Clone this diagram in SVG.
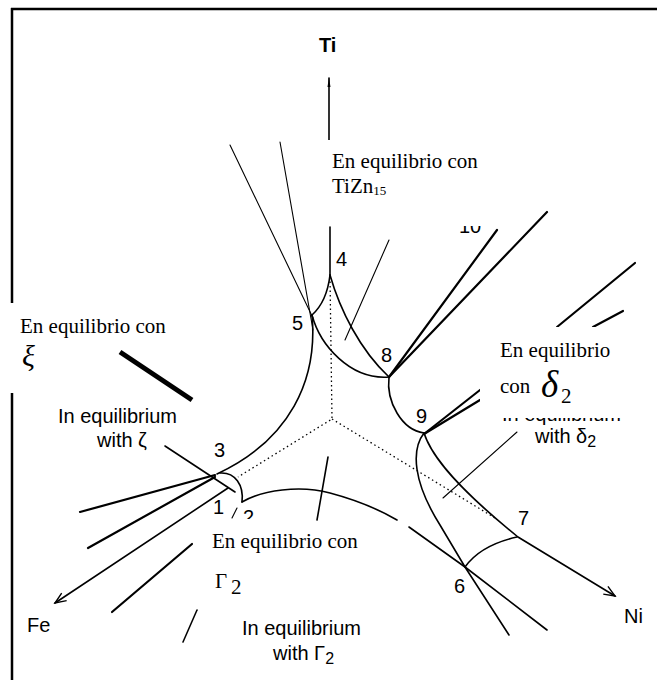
<svg xmlns="http://www.w3.org/2000/svg" width="657" height="680" viewBox="0 0 657 680">
<style>
.c{fill:none;stroke:#000;stroke-width:1.6;stroke-linecap:round}
.t{fill:none;stroke:#000;stroke-width:1.1;stroke-linecap:round}
.k{fill:none;stroke:#000;stroke-width:2.2;stroke-linecap:round}
.d{fill:none;stroke:#000;stroke-width:1.3;stroke-dasharray:1.5 3}
.s{font-family:"Liberation Sans",Arial,sans-serif;font-size:20px;fill:#000}
.e{font-family:"Liberation Serif","Times New Roman",serif;font-size:21px;fill:#000}
.g{font-family:"Liberation Serif","Times New Roman",serif;font-style:italic;fill:#000}
.w{fill:#fff;stroke:none}
</style>
<defs>
<marker id="open" markerWidth="14" markerHeight="12" refX="12" refY="6" orient="auto" markerUnits="userSpaceOnUse">
<path d="M1,1.5 L12,6 L1,10.5" fill="none" stroke="#000" stroke-width="1.4"/>
</marker>
<marker id="solid" markerWidth="10" markerHeight="16" refX="15" refY="3" orient="auto" markerUnits="userSpaceOnUse" viewBox="0 0 16 6">
<path d="M0,0.5 L16,3 L0,5.5 Z" fill="#000"/>
</marker>
</defs>
<rect width="657" height="680" fill="#fff"/>
<g id="frame">
<line x1="11" y1="9" x2="657" y2="9" stroke="#000" stroke-width="2.5"/>
<line x1="12" y1="8" x2="12" y2="303" stroke="#000" stroke-width="2.5"/>
<line x1="12" y1="393" x2="12" y2="680" stroke="#000" stroke-width="2.5"/>
</g>
<g id="connectors">
<path class="c" d="M329,140 L329,78" marker-end="url(#solid)"/>
<path class="c" d="M330,227 L330,275"/>
<path class="c" d="M228,488 L55,603" marker-end="url(#open)"/>
<path class="c" d="M312,315 C322,306 328,292 330,275"/>
<path class="c" d="M330,275 C340,310 360,350 389,377"/>
<path class="c" d="M312,315 C320,345 350,380 389,377"/>
<path class="c" d="M312,315 C318,380 290,440 217,474"/>
<path class="c" d="M389,377 C386,402 402,430 424,433"/>
<path class="c" d="M424,433 C411,450 413,482 440,525 L465,567 L509,635"/>
<path class="c" d="M424,433 C432,458 460,490 518,537 L615,596" marker-end="url(#open)"/>
<path class="c" d="M465,567 C475,553 490,543 517,537"/>
<path class="c" d="M220,473 C235,472 244,485 242,502"/>
<path class="c" d="M242,502 C262,490 300,485 330,493 S380,510 397,520"/>
<path class="c" d="M409,527 L465,567 L547,630"/>
<path class="d" d="M330,277 L332,419 L238,477"/>
<path class="d" d="M332,419 L495,518"/>
<path class="t" d="M230,145 L313,318"/>
<path class="t" d="M280,142 L313,330"/>
<path class="t" d="M389,240 L345,340"/>
<path class="k" d="M389,377 L497,230"/>
<path class="k" d="M389,377 L547,212"/>
<path class="k" d="M557,327 L635,263"/>
<path class="k" d="M593,327 L623,311"/>
<path class="k" d="M424,434 L480,390"/>
<path class="k" d="M424,434 L480,400"/>
<path class="t" d="M517,432 L443,498"/>
<path class="c" d="M328,457 L317,520"/>
<path class="c" d="M165,446 L235,492"/>
<path fill="none" stroke="#000" stroke-width="5" d="M120,352 L192,400"/>
<path class="k" d="M215,475 L80,512"/>
<path class="k" d="M215,477 L88,548"/>
<path class="k" d="M192,544 L112,612"/>
<path class="c" d="M197,610 L183,642"/>
<path class="t" d="M232,518 L237,508"/>
</g>
<g id="node-1"><text class="s" x="213" y="514">1</text></g>
<g id="node-2"><text class="s" x="243" y="524">2</text></g>
<g id="node-3"><text class="s" x="214" y="457">3</text></g>
<g id="node-4"><text class="s" x="336" y="266">4</text></g>
<g id="node-5"><text class="s" x="292" y="330">5</text></g>
<g id="node-6"><text class="s" x="454" y="593">6</text></g>
<g id="node-7"><text class="s" x="518" y="525">7</text></g>
<g id="node-8"><text class="s" x="381" y="362">8</text></g>
<g id="node-9"><text class="s" x="416" y="423">9</text></g>
<g id="node-10"><text class="s" x="459" y="233">10</text></g>
<g id="axis-Ti"><text class="s" x="319" y="52" font-weight="bold">Ti</text></g>
<g id="axis-Fe"><text class="s" x="27" y="632">Fe</text></g>
<g id="axis-Ni"><text class="s" x="624" y="623">Ni</text></g>
<g id="label-xi-en"><text class="s" x="58" y="423" font-size="21">In equilibrium</text><text class="s" x="97" y="447" font-size="21">with ζ</text></g>
<g id="label-delta-en"><text class="s" x="502" y="421" font-size="21">In equilibrium</text><text class="s" x="535" y="443" font-size="21">with δ<tspan font-size="16" dy="4">2</tspan></text></g>
<g id="label-gamma-en"><text class="s" x="242" y="635" font-size="21">In equilibrium</text><text class="s" x="273" y="660" font-size="21">with Γ<tspan font-size="16" dy="4">2</tspan></text></g>
<g id="masks">
<rect class="w" x="322" y="140" width="175" height="86"/>
<rect class="w" x="480" y="327" width="177" height="91"/>
<rect class="w" x="205" y="519" width="60" height="10"/>
</g>
<g id="label-TiZn15"><text class="e" x="332" y="168">En equilibrio con</text><text class="e" x="332" y="193">TiZn<tspan font-size="13" dy="2">15</tspan></text></g>
<g id="label-xi"><text class="e" x="20" y="333">En equilibrio con</text><text class="g" x="22" y="366" font-size="30">ξ</text></g>
<g id="label-delta"><text class="e" x="500" y="357">En equilibrio</text><text class="e" x="500" y="393">con</text><text class="g" x="541" y="397" font-size="37">δ</text><text class="e" x="561" y="403" font-size="20">2</text></g>
<g id="label-gamma"><text class="e" x="215" y="588" font-size="30">Γ</text><text class="e" x="231" y="594" font-size="18">2</text><text class="e" x="212" y="548">En equilibrio con</text></g>
</svg>
